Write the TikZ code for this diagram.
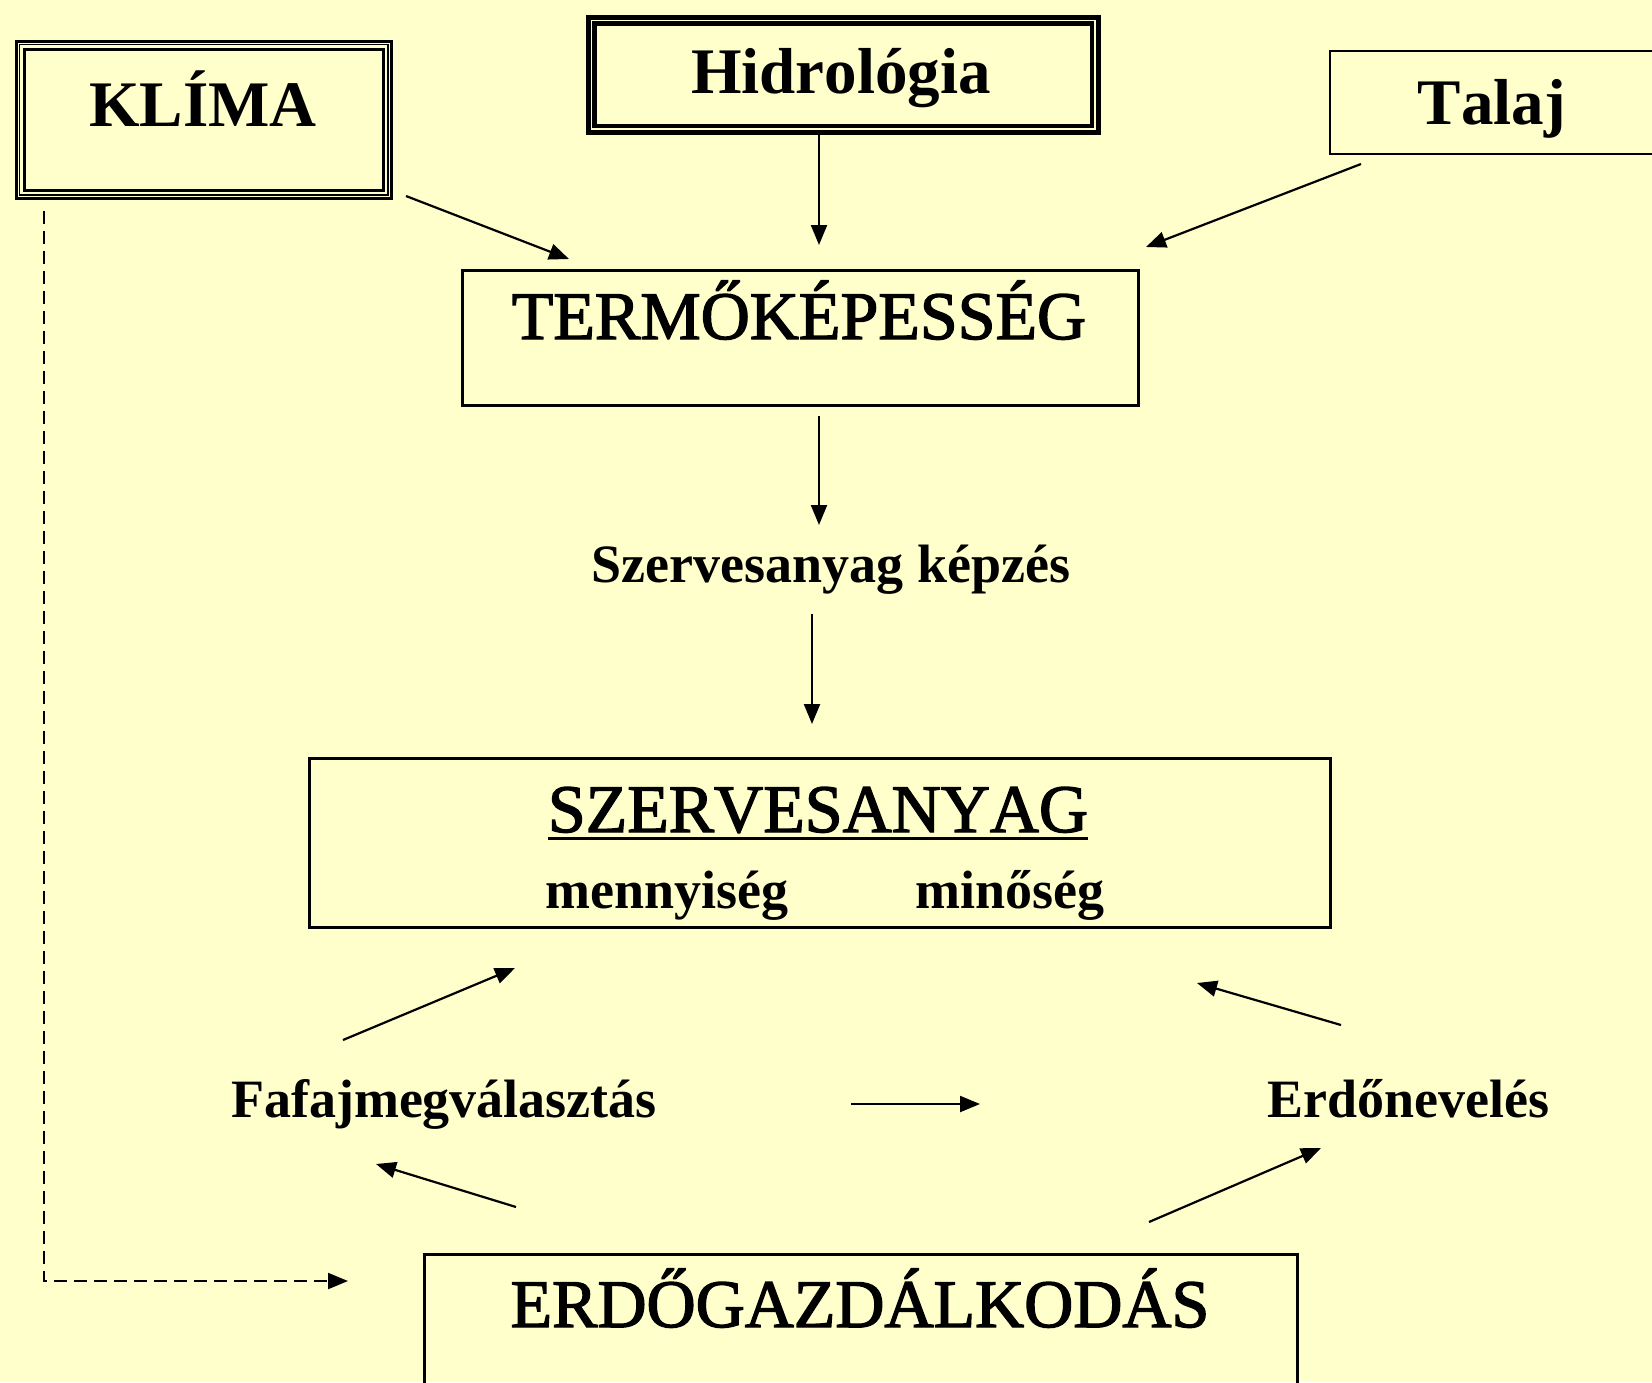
\documentclass[tikz,border=0pt]{standalone}
\usepackage{fontspec}
\setmainfont{Liberation Serif}[Kerning=Off]
\newfontfamily\semib{Liberation Serif}[Kerning=Off,FakeBold=2]
\usetikzlibrary{arrows.meta,calc}
\definecolor{bgc}{HTML}{FFFFCC}
\begin{document}
\begin{tikzpicture}[x=1pt,y=-1pt,
  box/.style={draw=black, line width=2.5pt, inner sep=0pt, anchor=north west},
  big/.style={inner sep=0pt, anchor=base, font=\semib\fontsize{68}{72}\selectfont},
  bigb/.style={inner sep=0pt, anchor=base, font=\fontsize{65}{70}\selectfont\bfseries},
  lbl/.style={inner sep=0pt, anchor=base, font=\fontsize{54}{60}\selectfont\bfseries},
  arr/.style={line width=2.2pt, -{Triangle[length=20pt,width=16pt]}},
  darr/.style={arr, dash pattern=on 13pt off 7pt}]
\useasboundingbox (0,0) rectangle (1652,1382);
\clip (0,0) rectangle (1652,1382);
\fill[bgc] (0,0) rectangle (1652,1382);

% boxes
\node[box, line width=3.5pt, minimum width=375pt, minimum height=157pt] (kl) at (14.5,39.5) {};
\draw[line width=1.5pt] ([shift={(5,5)}]kl.north west) rectangle ([shift={(-5,-5)}]kl.south east);
\draw[line width=3pt] ([shift={(9.5,9.5)}]kl.north west) rectangle ([shift={(-9.5,-9.5)}]kl.south east);

\node[box, line width=4.5pt, minimum width=510pt, minimum height=115pt] (hi) at (586,15) {};
\draw[line width=4.5pt] ([shift={(8.5,8.5)}]hi.north west) rectangle ([shift={(-8.5,-8.5)}]hi.south east);

\node[box, line width=2pt, minimum width=400pt, minimum height=103pt] (ta) at (1329,50) {};
\node[box, minimum width=676pt, minimum height=135pt] (te) at (461,269) {};
\node[box, minimum width=1021pt, minimum height=169pt] (sz) at (308,757) {};
\node[box, minimum width=873pt, minimum height=200pt] (er) at (423,1253) {};

% texts
\node[bigb] (klt) at (203,126) {KLÍMA};
\node[bigb] (hit) at (841,93) {Hidrológia};
\node[bigb] (tat) at (1492,124) {Talaj};
\node[big] (tet) at (799,339) {TERMŐKÉPESSÉG};
\node[lbl] (kep) at (831,582) {Szervesanyag képzés};
\node[big] (szt) at (818,832) {SZERVESANYAG};
\draw[line width=3pt] ($(szt.base west)+(0,6)$) -- ($(szt.base east)+(0,6)$);
\node[lbl] (men) at (667,908) {mennyiség};
\node[lbl] (min) at (1010,908) {minőség};
\node[lbl] (faf) at (444,1117) {Fafajmegválasztás};
\node[lbl] (ern) at (1408,1117) {Erdőnevelés};
\node[big] (ert) at (860,1327) {ERDŐGAZDÁLKODÁS};

% arrow end points
\coordinate (a1s) at (406,196);  \coordinate (a1e) at (569,259);
\coordinate (a2s) at (819,132);  \coordinate (a2e) at (819,245);
\coordinate (a3s) at (1361,164); \coordinate (a3e) at (1146,247);
\coordinate (a4s) at (819,416);  \coordinate (a4e) at (819,525);
\coordinate (a5s) at (812,614);  \coordinate (a5e) at (812,724);
\coordinate (a6s) at (343,1040); \coordinate (a6e) at (515,968);
\coordinate (a7s) at (1341,1025);\coordinate (a7e) at (1197,983);
\coordinate (a8s) at (851,1104); \coordinate (a8e) at (980,1104);
\coordinate (a9s) at (516,1207); \coordinate (a9e) at (376,1164);
\coordinate (a10s) at (1149,1222); \coordinate (a10e) at (1321,1148);
\coordinate (dks) at (44,211); \coordinate (dkc) at (44,1281); \coordinate (dke) at (348,1281);

\draw[arr] (a1s) -- (a1e);
\draw[arr] (a2s) -- (a2e);
\draw[arr] (a3s) -- (a3e);
\draw[arr] (a4s) -- (a4e);
\draw[arr] (a5s) -- (a5e);
\draw[arr] (a6s) -- (a6e);
\draw[arr] (a7s) -- (a7e);
\draw[arr] (a8s) -- (a8e);
\draw[arr] (a9s) -- (a9e);
\draw[arr] (a10s) -- (a10e);
\draw[darr] (dks) -- (dkc) -- (dke);
\end{tikzpicture}
\end{document}
